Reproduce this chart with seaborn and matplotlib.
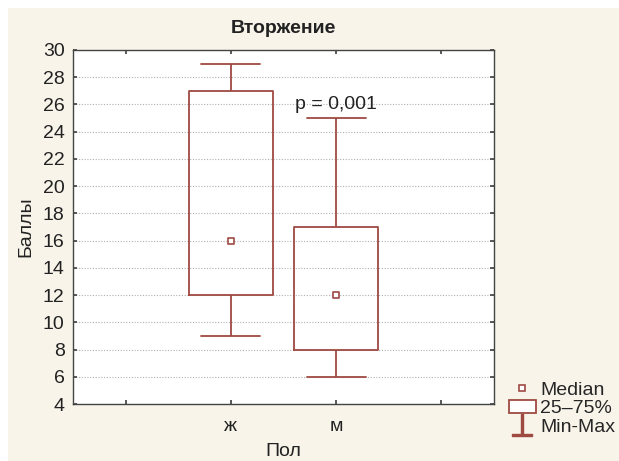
import numpy as np
import pandas as pd
import seaborn as sns
import matplotlib.pyplot as plt
from matplotlib.lines import Line2D
from matplotlib.patches import Patch, Rectangle

# data: five-number summary per group (min, q1, median, q3, max)
groups = ['ж', 'м']
zh_values = [9, 12, 16, 27, 29]
m_values = [6, 8, 12, 17, 25]
medians = [16, 12]
y_ticks = list(range(4, 31, 2))
p_text = 'p = 0,001'

df = pd.DataFrame({
    'Пол': ['ж'] * len(zh_values) + ['м'] * len(m_values),
    'Баллы': zh_values + m_values,
})

red = '#9e4a42'
beige = '#f8f4ea'
txt = '#222222'

sns.set_theme(style='white')
plt.rcParams['font.family'] = ['Liberation Sans', 'DejaVu Sans']

fig = plt.figure(figsize=(6.19, 4.61), dpi=100, facecolor=beige)
# thin white strips on top and left like the scan
fig.patches.append(Rectangle((0, 0), 8 / 619, 1, transform=fig.transFigure,
                             facecolor='white', edgecolor='none', zorder=-10))
fig.patches.append(Rectangle((0, 1 - 8 / 461), 1, 8 / 461, transform=fig.transFigure,
                             facecolor='white', edgecolor='none', zorder=-10))
ax = fig.add_axes([0.118, 0.1236, 0.680, 0.768])
ax.set_facecolor('white')

sns.boxplot(data=df, x='Пол', y='Баллы', order=groups, whis=(0, 100), width=0.8,
            fill=False, color=red, linewidth=1.3, showfliers=False,
            medianprops={'visible': False}, ax=ax)

# shorten caps a bit
for line in ax.lines:
    xd = np.asarray(line.get_xdata(), dtype=float)
    yd = np.asarray(line.get_ydata(), dtype=float)
    if len(xd) == 2 and yd[0] == yd[1] and abs(xd[1] - xd[0]) < 0.7:
        c = xd.mean()
        line.set_xdata([c - 0.28, c + 0.28])

sns.scatterplot(x=groups, y=medians, marker='s', s=16, facecolor='white',
                edgecolor=red, linewidth=1.2, ax=ax, zorder=5)

ax.text(1, 26, p_text, ha='center', va='center', fontsize=14, color=txt)

ax.set_xlim(-1.5, 2.5)
ax.set_xticks([-1, 0, 1, 2])
ax.set_xticklabels(['', 'ж', 'м', ''])
ax.set_ylim(4, 30)
ax.set_yticks(y_ticks)
ax.yaxis.grid(True, linestyle=(0, (1, 1.5)), color='#b0b0b0', linewidth=0.8)
ax.set_axisbelow(True)
ax.tick_params(direction='in', length=3, color='#444444', labelsize=14, labelcolor=txt,
               top=True, right=True, bottom=True, left=True)
ax.tick_params(axis='x', pad=10)
ax.tick_params(axis='y', pad=6)
for s in ax.spines.values():
    s.set_color('#444444')
    s.set_linewidth(1.0)

ax.set_title('Вторжение', fontsize=14, fontweight='bold', color=txt, pad=12)
ax.set_xlabel('Пол', fontsize=14, color=txt, labelpad=6)
ax.set_ylabel('Баллы', fontsize=14, color=txt, labelpad=6)

handles = [
    Line2D([], [], linestyle='none', marker='s', markersize=4, markerfacecolor='white',
           markeredgecolor=red, markeredgewidth=1.2),
    Patch(facecolor='white', edgecolor=red, linewidth=1.3),
    Line2D([], [], linestyle='none', marker=r'$\perp$', markersize=16, color=red),
]
fig.legend(handles, ['Median', '25–75%', 'Min-Max'], loc='lower left',
           bbox_to_anchor=(0.80, 0.025), frameon=False, fontsize=14,
           handlelength=1.4, handletextpad=0.2, labelspacing=0.05, borderpad=0.2)

fig.savefig('out.png', dpi=100, facecolor=fig.get_facecolor())
